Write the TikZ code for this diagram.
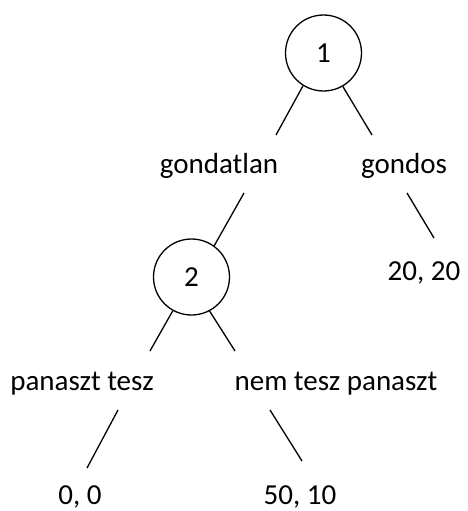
\documentclass[tikz,border=0pt]{standalone}
\usepackage{fontspec}
\setmainfont{Carlito}
\begin{document}
\begin{tikzpicture}[x=1pt, y=-1pt,
  player/.style={draw, circle, line width=1.3pt, minimum size=76pt, inner sep=0pt,
                 font=\fontsize{29}{34}\selectfont},
  txt/.style={anchor=base, inner sep=0pt, font=\fontsize{29}{34}\selectfont},
  branch/.style={line width=1.3pt}]
  \useasboundingbox (0,0) rectangle (468,511);

  % decision nodes
  \node[player] (n1) at (323.5,53) {1};
  \node[player] (n2) at (191.5,277) {2};

  % move labels and payoffs
  \node[txt] (gondatlan) at (219,173) {gondatlan};
  \node[txt] (gondos) at (404,173) {gondos};
  \node[txt] (p2020) at (424,280) {20, 20};
  \node[txt] (panasz) at (82,390) {panaszt tesz};
  \node[txt] (nempanasz) at (336,390) {nem tesz panaszt};
  \node[txt] (p00) at (80,504) {0, 0};
  \node[txt] (p5010) at (300,504) {50, 10};

  % free ends of the branch segments
  \coordinate (e1) at (276,135);
  \coordinate (e2) at (372,135);
  \coordinate (s3) at (244,193);
  \coordinate (s4) at (407,193);
  \coordinate (e4) at (434,238);
  \coordinate (e5) at (150,351);
  \coordinate (e6) at (235,351);
  \coordinate (s7) at (118,410);
  \coordinate (e7) at (87,468);
  \coordinate (s8) at (270,410);
  \coordinate (e8) at (302,461);

  % branches
  \draw[branch] (n1.238) -- (e1);
  \draw[branch] (n1.300) -- (e2);
  \draw[branch] (s3) -- (n2.54);
  \draw[branch] (s4) -- (e4);
  \draw[branch] (n2.241) -- (e5);
  \draw[branch] (n2.298) -- (e6);
  \draw[branch] (s7) -- (e7);
  \draw[branch] (s8) -- (e8);
\end{tikzpicture}
\end{document}
